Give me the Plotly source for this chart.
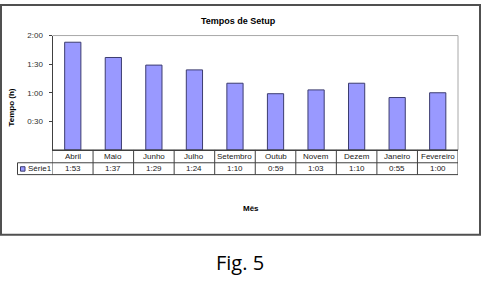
import plotly.graph_objects as go

meses = ["Abril", "Maio", "Junho", "Julho", "Setembro", "Outub", "Novem", "Dezem", "Janeiro", "Fevereiro"]
minutos = [113, 97, 89, 84, 70, 59, 63, 70, 55, 60]
y_tickvals = [30, 60, 90, 120]
y_ticktext = ["0:30", "1:00", "1:30", "2:00"]
serie_nome = "Série1"
titulo = "Tempos de Setup"
y_titulo = "Tempo (h)"
x_titulo = "Mês"
legenda_fig = "Fig. 5"

W, H = 482, 290
def px(x): return x / W
def py(y): return 1 - y / H

X0, X1, YT, YB = 52.5, 458, 32, 148
R1, R2 = 161, 173
LEG_L = 17.5

BAR = "#9999FF"
EDGE = "#3c3c70"
LINE = "#404040"
FONT = "Liberation Sans, Arial, sans-serif"
FS = 8

def fmt(m):
    return f"{m // 60}:{m % 60:02d}"

fig = go.Figure()
fig.add_trace(go.Bar(
    x=list(range(len(meses))), y=minutos, name=serie_nome,
    marker=dict(color=BAR, line=dict(color=EDGE, width=1)),
    showlegend=False, hoverinfo="skip",
))

n = len(meses)
shapes = []
shapes.append(dict(type="rect", xref="paper", yref="paper", x0=px(1), x1=px(480), y0=py(234), y1=py(1),
                   line=dict(color="#505050", width=2)))
shapes.append(dict(type="line", xref="paper", yref="paper", x0=px(X0), x1=px(X1), y0=py(YT), y1=py(YT),
                   line=dict(color="#a8a8a8", width=1)))
shapes.append(dict(type="line", xref="paper", yref="paper", x0=px(X1), x1=px(X1), y0=py(YB), y1=py(YT),
                   line=dict(color="#a8a8a8", width=1)))
for yy, xl in [(YB, X0), (R1, LEG_L), (R2, LEG_L)]:
    shapes.append(dict(type="line", xref="paper", yref="paper", x0=px(xl), x1=px(X1), y0=py(yy), y1=py(yy),
                       line=dict(color=LINE, width=1)))
for i in range(n + 1):
    shapes.append(dict(type="line", xref="x", yref="paper", x0=i - 0.5, x1=i - 0.5, y0=py(R2), y1=py(YB),
                       line=dict(color=LINE, width=1)))
shapes.append(dict(type="line", xref="paper", yref="paper", x0=px(LEG_L), x1=px(LEG_L), y0=py(R2), y1=py(R1),
                   line=dict(color=LINE, width=1)))
shapes.append(dict(type="rect", xref="paper", yref="paper", x0=px(20.5), x1=px(25), y0=py(169.5), y1=py(165),
                   fillcolor=BAR, line=dict(color=EDGE, width=1)))

ann = []
for i, (m, v) in enumerate(zip(meses, minutos)):
    ann.append(dict(x=i, y=py((YB + R1) / 2), xref="x", yref="paper", text=m, showarrow=False,
                    font=dict(family=FONT, size=FS, color="#202020"), yanchor="middle"))
    ann.append(dict(x=i, y=py((R1 + R2) / 2), xref="x", yref="paper", text=fmt(v), showarrow=False,
                    font=dict(family=FONT, size=FS, color="#202020"), yanchor="middle"))
ann.append(dict(x=px(26), y=py((R1 + R2) / 2), xref="paper", yref="paper", text=serie_nome, showarrow=False,
                xanchor="left", yanchor="middle", font=dict(family=FONT, size=FS, color="#202020")))
ann.append(dict(x=px(238), y=py(17), xref="paper", yref="paper", text=f"<b>{titulo}</b>", showarrow=False,
                yanchor="middle", font=dict(family=FONT, size=9, color="#000")))
ann.append(dict(x=px(12), y=py(105), xref="paper", yref="paper", text=f"<b>{y_titulo}</b>", showarrow=False,
                textangle=-90, xanchor="center", yanchor="middle", font=dict(family=FONT, size=8, color="#000")))
ann.append(dict(x=px(251), y=py(207), xref="paper", yref="paper", text=f"<b>{x_titulo}</b>", showarrow=False,
                yanchor="middle", font=dict(family=FONT, size=8, color="#000")))
ann.append(dict(x=px(240), y=py(262), xref="paper", yref="paper", text=legenda_fig, showarrow=False,
                yanchor="middle", font=dict(family="Open Sans, Noto Sans, sans-serif", size=20, color="#000")))

fig.update_layout(
    width=W, height=H, margin=dict(l=0, r=0, t=0, b=0),
    paper_bgcolor="white", plot_bgcolor="white",
    bargap=0.6, shapes=shapes, annotations=ann,
    xaxis=dict(domain=[px(X0), px(X1)], range=[-0.5, n - 0.5], showticklabels=False, ticks="",
               showgrid=False, zeroline=False, showline=True, linecolor=LINE, linewidth=1),
    yaxis=dict(domain=[py(YB), py(YT)], range=[0, 120], tickvals=y_tickvals, ticktext=y_ticktext,
               ticks="outside", ticklen=3, tickcolor=LINE, showgrid=False, zeroline=False,
               showline=True, linecolor=LINE, linewidth=1, ticklabelstandoff=4,
               tickfont=dict(family=FONT, size=FS, color="#303030")),
)

fig.write_html("out.html")
